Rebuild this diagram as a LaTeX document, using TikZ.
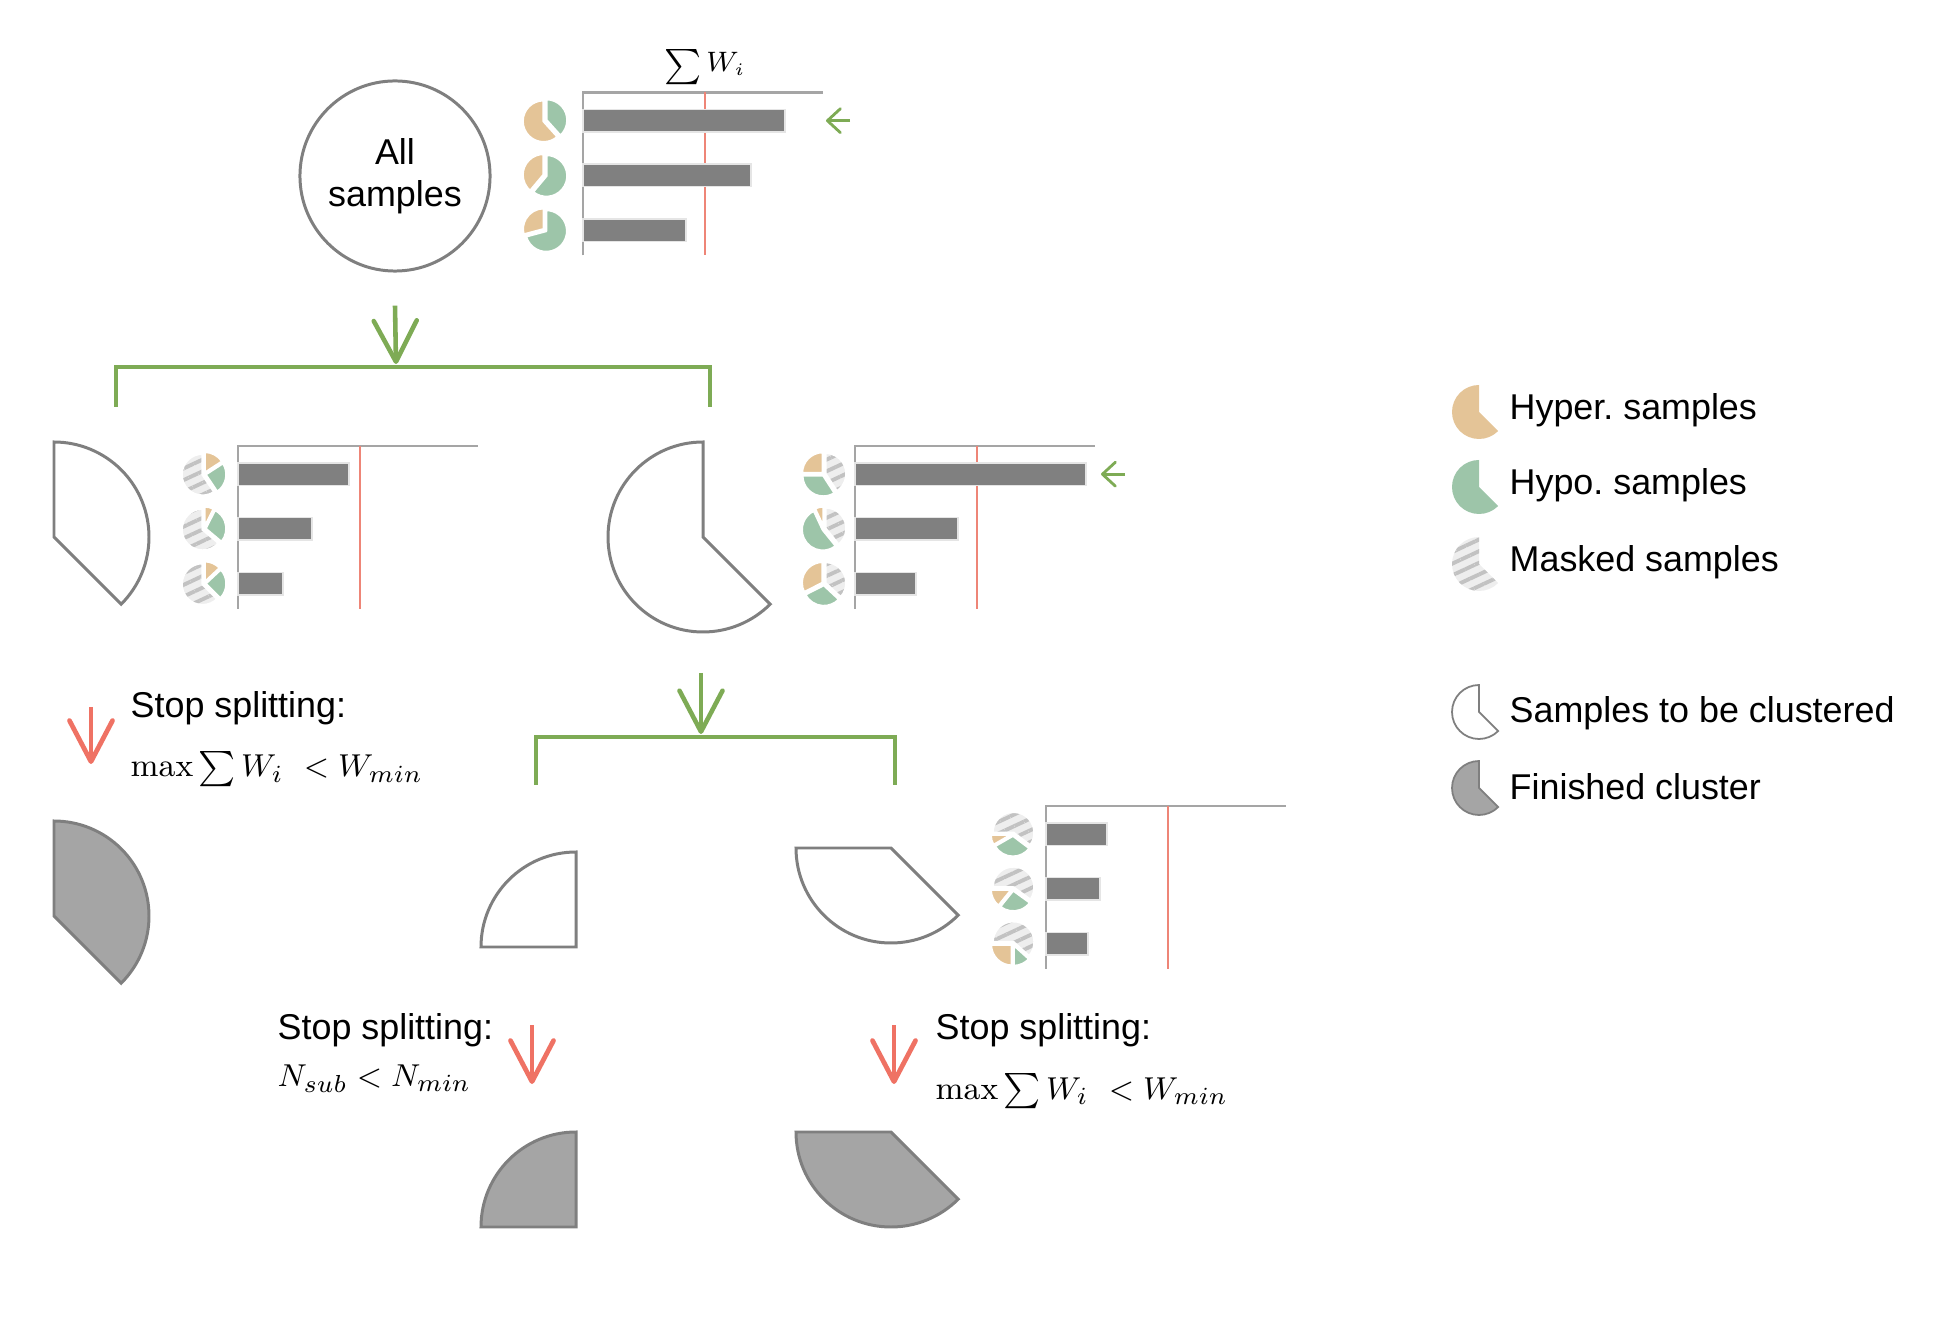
\documentclass[tikz,border=0pt]{standalone}
\usepackage{fontspec}
\setsansfont{Liberation Sans}
\usetikzlibrary{arrows.meta,patterns.meta}
\definecolor{hypercol}{HTML}{E4C497}
\definecolor{hypocol}{HTML}{9DC5A9}
\definecolor{splitgreen}{HTML}{7EAB55}
\definecolor{stopred}{HTML}{EF7264}
\definecolor{limitred}{HTML}{EE8577}
\definecolor{bargray}{HTML}{808080}
\definecolor{axisgray}{HTML}{A5A5A5}
\definecolor{edgegray}{HTML}{7F7F7F}
\definecolor{donegray}{HTML}{A5A5A5}
\definecolor{maskbg}{HTML}{EEEEEE}
\definecolor{maskln}{HTML}{C2C2C2}
\begin{document}
\begin{tikzpicture}[x=0.01cm,y=0.01cm,
  lbl/.style={font=\sffamily\fontsize{10.2}{11.8}\selectfont\frenchspacing,inner sep=0pt},
  mth/.style={font=\fontsize{9.3}{11}\selectfont,inner sep=0pt},
  todo/.style={draw=edgegray,line width=0.85pt,fill=white},
  done/.style={todo,fill=donegray},
  axis/.style={draw=axisgray,line width=0.6pt},
  wmin/.style={draw=limitred,line width=0.6pt},
  bar/.style={fill=bargray,draw=gray!20,line width=0.4pt},
  slice/.style={draw=white,line width=0.7pt,line join=round},
  hyper/.style={slice,fill=hypercol},
  hypo/.style={slice,fill=hypocol},
  masked/.style={slice,preaction={fill=maskbg},
    preaction={pattern={Lines[angle=25,distance=3pt,line width=1.1pt]},pattern color=maskln}},
  split/.style={draw=splitgreen,line width=1.3pt},
  garrow/.style={draw=splitgreen,line width=1.3pt,-{Straight Barb[length=4.1mm,width=4.3mm,round]}},
  rarrow/.style={draw=stopred,line width=1.35pt,-{Straight Barb[length=4.1mm,width=4.3mm,round]}},
  sarrow/.style={draw=splitgreen,line width=0.8pt,-{Straight Barb[length=1.3mm,width=2.4mm,round]}}]
  \useasboundingbox (0,0) rectangle (1960,-1334);

  % root
  \node[lbl,circle,draw=edgegray,line width=0.85pt,minimum size=1.9cm,align=center] (all) at (395,-176) {All\\samples};
  \begin{scope}[shift={(583,-92.5)}]
    \draw[axis] (0,-163) -- (0,0) -- (240,0);
    \draw[wmin] (122,0) -- (122,-163);
    \node[mth,font=\fontsize{7.6}{9}\selectfont] (wsum) at (122,25) {$\mathop{\scriptstyle\sum} W_i$};
    \foreach \w [count=\i] in {202,168,103}
      \fill[bar] (0,{-17-54.7*(\i-1)}) rectangle (\w,{-39.5-54.7*(\i-1)});
    \foreach \sl [count=\i] in {{-48/90/hypo,90/312/hyper},{-130/90/hypo,90/230/hyper},{-165/90/hypo,90/195/hyper}}
      \foreach \a/\b/\c in \sl
        \path[\c,shift={({(\a+\b)/2}:1.5)}] (-38,{-28.2-54.7*(\i-1)}) -- ++(\a:21) arc (\a:\b:21) -- cycle;
    \coordinate (pick0) at (267,-28.2);
    \coordinate (best0) at (243,-28.2);
    \draw[sarrow] (pick0) -- (best0);
  \end{scope}

  % first split
  \coordinate (from1) at ([yshift=-0.33cm]all.south);
  \coordinate (fork1) at (396,-364);
  \draw[garrow] (from1) -- (fork1);
  \draw[split] (116,-407) -- (116,-367) -- (710,-367) -- (710,-407);

  \draw[todo] (54,-537) -- ++(-45:95) arc (-45:90:95) -- cycle;
  \begin{scope}[shift={(238,-446)}]
    \draw[axis] (0,-163) -- (0,0) -- (240,0);
    \draw[wmin] (122,0) -- (122,-163);
    \foreach \w [count=\i] in {111,74,45}
      \fill[bar] (0,{-17-54.7*(\i-1)}) rectangle (\w,{-39.5-54.7*(\i-1)});
    \foreach \sl [count=\i] in {{90/304/masked,-56/33/hypo,33/90/hyper},{90/320/masked,-40/63/hypo,63/90/hyper},{90/315/masked,-45/43/hypo,43/90/hyper}}
      \foreach \a/\b/\c in \sl
        \path[\c,shift={({(\a+\b)/2}:1.5)}] (-34,{-28.2-54.7*(\i-1)}) -- ++(\a:21) arc (\a:\b:21) -- cycle;
  \end{scope}

  \draw[todo] (703,-537) -- ++(90:95) arc (90:315:95) -- cycle;
  \begin{scope}[shift={(855,-446)}]
    \draw[axis] (0,-163) -- (0,0) -- (240,0);
    \draw[wmin] (122,0) -- (122,-163);
    \foreach \w [count=\i] in {231,103,61}
      \fill[bar] (0,{-17-54.7*(\i-1)}) rectangle (\w,{-39.5-54.7*(\i-1)});
    \foreach \sl [count=\i] in {{90/180/hyper,180/303/hypo,-57/90/masked},{90/115/hyper,115/309/hypo,-51/90/masked},{90/207/hyper,207/317/hypo,-43/90/masked}}
      \foreach \a/\b/\c in \sl
        \path[\c,shift={({(\a+\b)/2}:1.5)}] (-31,{-28.2-54.7*(\i-1)}) -- ++(\a:21) arc (\a:\b:21) -- cycle;
    \coordinate (pick1) at (270,-28.2);
    \coordinate (best1) at (246,-28.2);
    \draw[sarrow] (pick1) -- (best1);
  \end{scope}

  % left leaf
  \coordinate (stop1a) at (91,-707);
  \coordinate (stop1b) at (91,-764);
  \draw[rarrow] (stop1a) -- (stop1b);
  \node[lbl,anchor=base west] (stop1) at (130,-718) {Stop splitting:};
  \node[mth,anchor=base west] (crit1) at (130,-777) {$\max\sum W_i\ <W_{min}$};
  \draw[done] (54,-916) -- ++(-45:95) arc (-45:90:95) -- cycle;

  % second split
  \coordinate (from2) at (701,-673);
  \coordinate (fork2) at (701,-734);
  \draw[garrow] (from2) -- (fork2);
  \draw[split] (536,-785) -- (536,-737) -- (895,-737) -- (895,-785);

  \draw[todo] (576,-947) -- ++(90:95) arc (90:180:95) -- cycle;
  \draw[todo] (891,-848) -- ++(180:95) arc (180:315:95) -- cycle;
  \begin{scope}[shift={(1046,-806)}]
    \draw[axis] (0,-163) -- (0,0) -- (240,0);
    \draw[wmin] (122,0) -- (122,-163);
    \foreach \w [count=\i] in {61,54,42}
      \fill[bar] (0,{-17-54.7*(\i-1)}) rectangle (\w,{-39.5-54.7*(\i-1)});
    \foreach \sl [count=\i] in {{180/210/hyper,210/323/hypo,-37/180/masked},{180/231/hyper,231/324/hypo,-36/180/masked},{180/270/hyper,270/318/hypo,-42/180/masked}}
      \foreach \a/\b/\c in \sl
        \path[\c,shift={({(\a+\b)/2}:1.5)}] (-33,{-28.2-54.7*(\i-1)}) -- ++(\a:21) arc (\a:\b:21) -- cycle;
  \end{scope}

  % lower leaves
  \coordinate (stop2a) at (532,-1025);
  \coordinate (stop2b) at (532,-1084);
  \draw[rarrow] (stop2a) -- (stop2b);
  \node[lbl,anchor=base west] (stop2) at (277,-1039) {Stop splitting:};
  \node[mth,anchor=base west] (crit2) at (277,-1086) {$N_{sub}<N_{min}$};
  \draw[done] (576,-1227) -- ++(90:95) arc (90:180:95) -- cycle;

  \coordinate (stop3a) at (894,-1025);
  \coordinate (stop3b) at (894,-1084);
  \draw[rarrow] (stop3a) -- (stop3b);
  \node[lbl,anchor=base west] (stop3) at (935,-1039) {Stop splitting:};
  \node[mth,anchor=base west] (crit3) at (935,-1099) {$\max\sum W_i\ <W_{min}$};
  \draw[done] (891,-1132) -- ++(180:95) arc (180:315:95) -- cycle;

  % legend
  \fill[hypercol] (1479,-412) -- ++(90:27) arc (90:315:27) -- cycle;
  \node[lbl,anchor=base west] (keyhyper) at (1509,-420) {Hyper. samples};
  \fill[hypocol] (1479,-487) -- ++(90:27) arc (90:315:27) -- cycle;
  \node[lbl,anchor=base west] (keyhypo) at (1509,-495) {Hypo. samples};
  \path[masked,draw=none] (1479,-564) -- ++(90:27) arc (90:315:27) -- cycle;
  \node[lbl,anchor=base west] (keymask) at (1509,-572) {Masked samples};
  \draw[todo,line width=0.5pt] (1479,-712) -- ++(90:27) arc (90:315:27) -- cycle;
  \node[lbl,anchor=base west] (keytodo) at (1509,-723) {Samples to be clustered};
  \draw[done,line width=0.5pt] (1479,-788) -- ++(90:27) arc (90:315:27) -- cycle;
  \node[lbl,anchor=base west] (keydone) at (1509,-800) {Finished cluster};
\end{tikzpicture}
\end{document}
